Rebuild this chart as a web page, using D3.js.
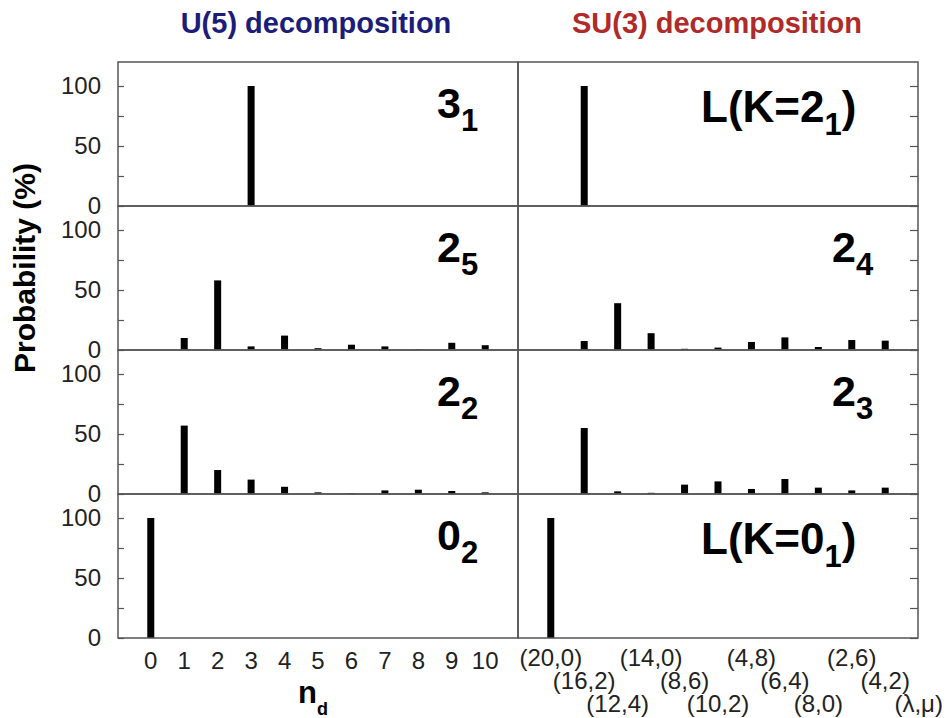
<!DOCTYPE html>
<html>
<head>
<meta charset="utf-8">
<script src="https://cdn.jsdelivr.net/npm/d3@7"></script>
<style>
  body { margin: 0; background: #fff; }
  svg { font-family: "Liberation Sans", Arial, sans-serif; }
</style>
</head>
<body>
<div id="chart"></div>
<script>
// --- data ---
const ndCategories = ["0", "1", "2", "3", "4", "5", "6", "7", "8", "9", "10"];
const su3Categories = ["(20,0)", "(16,2)", "(12,4)", "(14,0)", "(8,6)", "(10,2)",
                       "(4,8)", "(6,4)", "(8,0)", "(2,6)", "(4,2)"];

// U(5) decomposition, one row per panel (top to bottom)
const u5_3_1 = [0, 0, 0, 100, 0, 0, 0, 0, 0, 0, 0];
const u5_2_5 = [0, 10, 58, 3, 12, 1.5, 4.4, 3, 0.6, 6, 4];
const u5_2_2 = [0, 57, 20, 12, 6, 1.4, 0.8, 3, 3.6, 2.5, 1.4];
const u5_0_2 = [100, 0, 0, 0, 0, 0, 0, 0, 0, 0, 0];

// SU(3) decomposition
const su3_K2 = [0, 100, 0, 0, 0, 0, 0, 0, 0, 0, 0];
const su3_2_4 = [0, 7.5, 39, 14, 1, 2, 6.7, 10.5, 2.5, 8.3, 7.8];
const su3_2_3 = [0, 55, 2.2, 1, 7.8, 10.5, 4.2, 12.5, 5.3, 3, 5.3];
const su3_K0 = [100, 0, 0, 0, 0, 0, 0, 0, 0, 0, 0];

const leftLabels = [["3", "1"], ["2", "5"], ["2", "2"], ["0", "2"]];
const rightLabels = [["L(K=2", "1", ")"], ["2", "4"], ["2", "3"], ["L(K=0", "1", ")"]];

const yTicks = [0, 25, 50, 75, 100];

// --- layout ---
const width = 946, height = 718;
const panelTop = 62, panelH = 144;
const leftX0 = 118, midX = 518, rightX1 = 918;
const barW = 7;

const svg = d3.select("#chart").append("svg")
  .attr("width", width).attr("height", height);

const xLeft = d3.scalePoint().domain(ndCategories).range([leftX0, midX]).padding(0.98);
const xRight = d3.scalePoint().domain(su3Categories).range([midX, rightX1]).padding(0.98);

const leftSeries = [u5_3_1, u5_2_5, u5_2_2, u5_0_2];
const rightSeries = [su3_K2, su3_2_4, su3_2_3, su3_K0];

function drawLabel(g, parts, x, y, size) {
  const t = g.append("text")
    .attr("x", x).attr("y", y)
    .attr("font-size", size).attr("font-weight", "bold").attr("fill", "#000");
  t.append("tspan").text(parts[0]);
  t.append("tspan").attr("font-size", 31).attr("dy", 13).text(parts[1]);
  if (parts[2]) t.append("tspan").attr("dy", -13).text(parts[2]);
}

function drawPanel(i, side) {
  const top = panelTop + i * panelH;
  const y = d3.scaleLinear().domain([0, 120]).range([top + panelH, top]);
  const isLeft = side === "left";
  const x = isLeft ? xLeft : xRight;
  const cats = isLeft ? ndCategories : su3Categories;
  const vals = isLeft ? leftSeries[i] : rightSeries[i];
  const x0 = isLeft ? leftX0 : midX;
  const g = svg.append("g");

  // bars
  g.selectAll("rect.bar")
    .data(vals.map((v, k) => ({ c: cats[k], v })).filter(d => d.v > 0))
    .join("rect")
    .attr("class", "bar")
    .attr("x", d => x(d.c) - barW / 2)
    .attr("width", barW)
    .attr("y", d => y(d.v))
    .attr("height", d => y(0) - y(d.v))
    .attr("fill", "#000");

  // ticks
  if (isLeft) {
    const ax = g.append("g").attr("transform", `translate(${leftX0},0)`)
      .call(d3.axisLeft(y).tickValues(yTicks).tickSize(-6).tickPadding(17)
        .tickFormat(d => d % 50 === 0 ? d : ""));
    ax.select(".domain").remove();
    ax.selectAll("line").attr("stroke", "#555").attr("stroke-width", 1.2);
    ax.selectAll("text").attr("font-size", 24).attr("fill", "#222")
      .attr("font-family", "Liberation Sans, Arial, sans-serif");
  } else {
    const ax = g.append("g").attr("transform", `translate(${rightX1},0)`)
      .call(d3.axisRight(y).tickValues(yTicks).tickSize(-8).tickFormat(""));
    ax.select(".domain").remove();
    ax.selectAll("line").attr("stroke", "#555").attr("stroke-width", 1.2);
  }

  // frame
  g.append("rect")
    .attr("x", x0).attr("y", top)
    .attr("width", 400).attr("height", panelH)
    .attr("fill", "none").attr("stroke", "#555").attr("stroke-width", 1.5);

  // panel label
  if (isLeft) {
    drawLabel(g, leftLabels[i], x0 + 319, top + 56, 43);
  } else {
    const parts = rightLabels[i];
    if (parts.length === 3) drawLabel(g, parts, x0 + 183, top + 60, 44);
    else drawLabel(g, parts, x0 + 314, top + 56, 43);
  }
}

for (let i = 0; i < 4; i++) {
  drawPanel(i, "left");
  drawPanel(i, "right");
}

// x tick labels
const bottom = panelTop + 4 * panelH;
svg.append("g").selectAll("text")
  .data(ndCategories)
  .join("text")
  .attr("x", d => xLeft(d))
  .attr("y", bottom + 31)
  .attr("text-anchor", "middle")
  .attr("font-size", 24).attr("fill", "#222")
  .text(d => d);

const rowBase = [bottom + 28, bottom + 51, bottom + 74];
const step = xRight.step();
svg.append("g").selectAll("text")
  .data(su3Categories.concat(["(λ,μ)"]))
  .join("text")
  .attr("x", (d, k) => k < su3Categories.length ? xRight(d) : xRight(su3Categories[10]) + step)
  .attr("y", (d, k) => rowBase[k % 3])
  .attr("text-anchor", "middle")
  .attr("font-size", 24).attr("fill", "#222")
  .text(d => d);

// axis titles
const nd = svg.append("text")
  .attr("x", 298).attr("y", 703)
  .attr("font-size", 31).attr("font-weight", "bold");
nd.append("tspan").text("n");
nd.append("tspan").attr("font-size", 18).attr("dy", 12).text("d");

svg.append("text")
  .attr("transform", "translate(35,268) rotate(-90)")
  .attr("text-anchor", "middle")
  .attr("font-size", 30).attr("font-weight", "bold")
  .text("Probability (%)");

// column titles
svg.append("text")
  .attr("x", 316).attr("y", 33)
  .attr("text-anchor", "middle")
  .attr("font-size", 29).attr("font-weight", "bold").attr("fill", "#1c1c7a")
  .text("U(5) decomposition");

svg.append("text")
  .attr("x", 717).attr("y", 33)
  .attr("text-anchor", "middle")
  .attr("font-size", 29).attr("font-weight", "bold").attr("fill", "#b02a2a")
  .text("SU(3) decomposition");
</script>
</body>
</html>
